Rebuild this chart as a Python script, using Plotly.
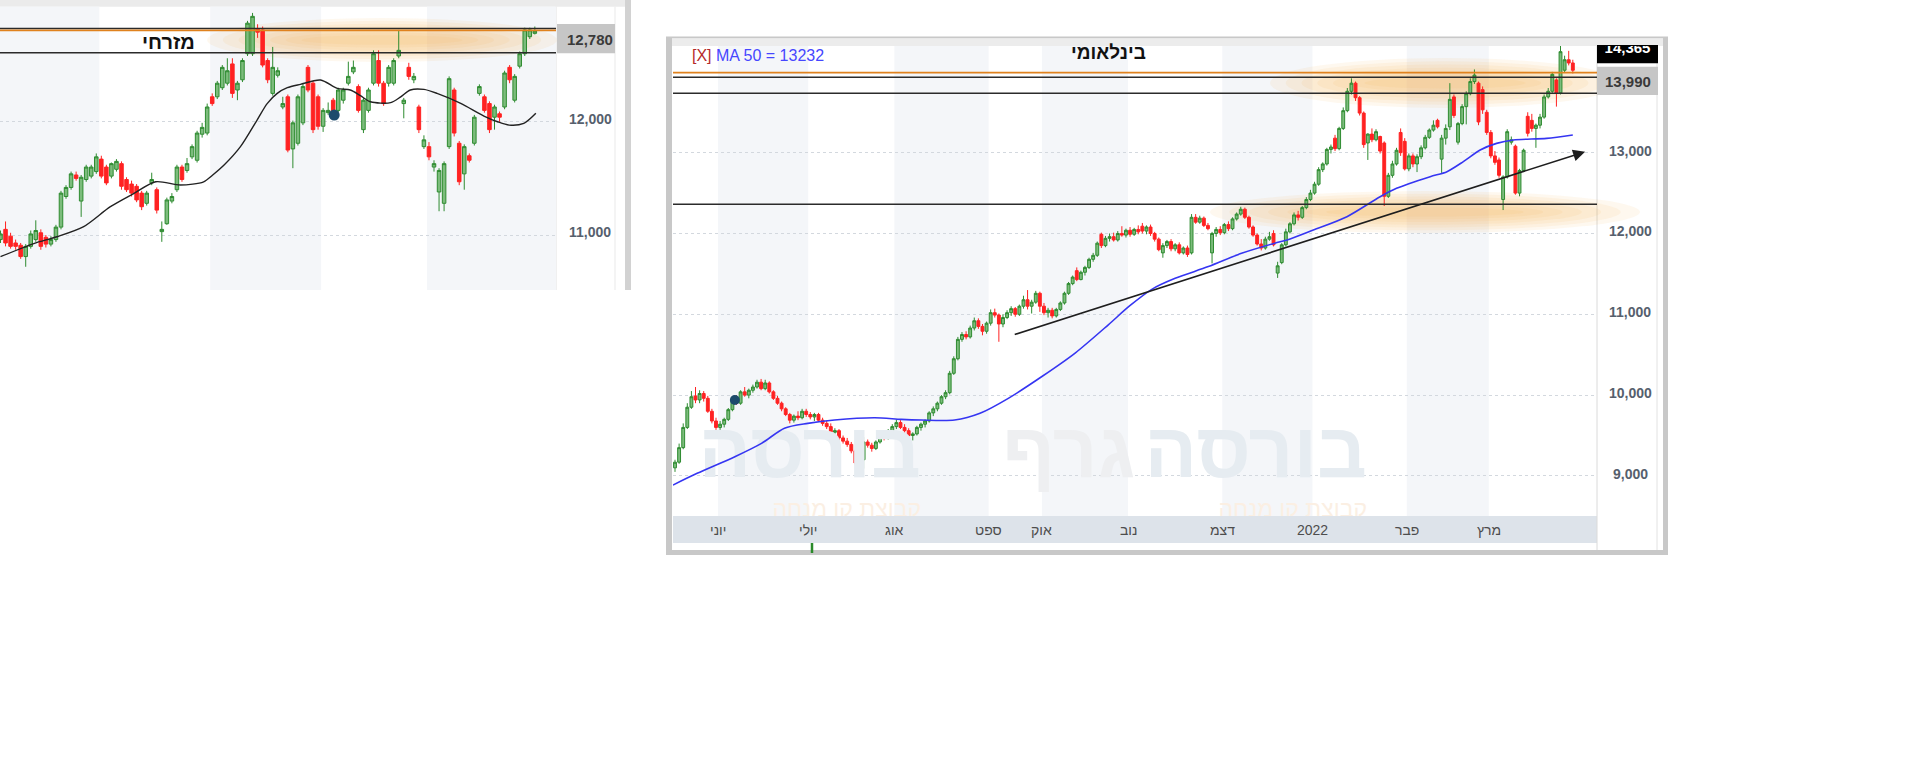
import plotly.graph_objects as go

W, H = 1914, 761

# ---------------- data: right chart (בינלאומי) ----------------
r_open = [9100, 9170, 9350, 9600, 9850, 9990, 9940, 10020, 9960, 9800,
          9680, 9600, 9640, 9700, 9820, 9930, 9900, 10040, 10000, 10060,
          10100, 10160, 10080, 10150, 10040, 9960, 9900, 9830, 9760, 9690,
          9740, 9720, 9800, 9760, 9730, 9760, 9690, 9650, 9610, 9540,
          9560, 9470, 9430, 9390, 9310, 9160, 9200, 9420, 9380, 9340,
          9420, 9500, 9470, 9560, 9610, 9660, 9600, 9560, 9500, 9520,
          9600, 9640, 9680, 9780, 9830, 9900, 9980, 10030, 10270, 10450,
          10690, 10750, 10720, 10830, 10920, 10850, 10790, 10890, 11020, 10990,
          10880, 10960, 11020, 11070, 11000, 11100, 11180, 11100, 11150, 11260,
          11100, 11020, 11050, 10980, 11060, 11140, 11260, 11380, 11540, 11430,
          11520, 11580, 11680, 11730, 11990, 11850, 11940, 11960, 11920, 12000,
          11980, 12040, 11990, 12050, 12090, 12030, 12080, 12000, 11930, 11760,
          11850, 11900, 11810, 11860, 11760, 11820, 11760, 12200, 12140, 12190,
          12100, 11760, 12000, 12050, 12010, 12110, 12060, 12180, 12240, 12300,
          12200, 12080, 11980, 11870, 11820, 11930, 12000, 11510, 11640, 11860,
          12020, 12120, 12230, 12200, 12320, 12420, 12500, 12610, 12790, 12860,
          13040, 13180, 13050, 13300, 13520, 13760, 13860, 13680, 13490, 13120,
          13230, 13160, 13200, 13120, 12460, 12720, 12860, 13250, 13140, 12800,
          12960, 12860, 12950, 13060, 13190, 13280, 13400, 12920, 13180, 13320,
          13690, 13130, 13360, 13570, 13730, 13880, 13860, 13780, 13500, 13250,
          12960, 12910, 12420, 12700, 13130, 13080, 12500, 12780, 13450, 13400,
          13300, 13340, 13440, 13690, 13760, 13900, 13740, 14020, 14150, 14110]
r_high = [9200, 9400, 9650, 9900, 10050, 10100, 10060, 10050, 9990, 9830,
          9720, 9680, 9720, 9840, 9960, 10000, 10060, 10100, 10080, 10130,
          10190, 10200, 10190, 10170, 10060, 9990, 9920, 9850, 9780, 9760,
          9800, 9830, 9830, 9790, 9780, 9780, 9720, 9680, 9650, 9590,
          9580, 9500, 9470, 9420, 9340, 9250, 9480, 9450, 9410, 9440,
          9520, 9560, 9580, 9640, 9700, 9690, 9640, 9590, 9540, 9620,
          9660, 9700, 9800, 9860, 9920, 10000, 10060, 10300, 10480, 10720,
          10780, 10790, 10860, 10960, 10950, 10880, 10910, 11060, 11070, 11010,
          11000, 11050, 11100, 11090, 11120, 11230, 11300, 11180, 11290, 11280,
          11140, 11080, 11080, 11080, 11160, 11280, 11400, 11480, 11580, 11540,
          11600, 11700, 11760, 11900, 12010, 11970, 12000, 12010, 12030, 12090,
          12060, 12080, 12070, 12100, 12130, 12100, 12110, 12020, 11950, 11880,
          11920, 11930, 11880, 11890, 11840, 11850, 12240, 12240, 12220, 12210,
          12130, 12020, 12080, 12090, 12130, 12150, 12200, 12260, 12330, 12320,
          12220, 12100, 12000, 11930, 11960, 12020, 12040, 11650, 11880, 12060,
          12140, 12260, 12280, 12340, 12450, 12540, 12640, 12820, 12880, 13060,
          13100, 13220, 13320, 13560, 13800, 13920, 13880, 13700, 13510, 13240,
          13300, 13290, 13210, 13140, 12750, 12900, 13060, 13300, 13180, 12990,
          12990, 12980, 13090, 13220, 13300, 13400, 13420, 13220, 13350, 13860,
          13720, 13380, 13600, 13760, 13920, 14030, 13880, 13820, 13530, 13280,
          13020, 12940, 12720, 13290, 13200, 13100, 12800, 13050, 13500, 13480,
          13360, 13480, 13720, 13800, 14000, 13920, 14330, 14200, 14260, 14150]
r_low = [9050, 9150, 9330, 9580, 9830, 9900, 9900, 9920, 9780, 9650,
         9570, 9570, 9600, 9680, 9800, 9880, 9880, 9980, 9960, 10030,
         10080, 10060, 10060, 10020, 9940, 9880, 9800, 9740, 9650, 9660,
         9690, 9700, 9730, 9700, 9680, 9670, 9620, 9580, 9520, 9490,
         9440, 9400, 9360, 9280, 9130, 9110, 9090, 9350, 9300, 9320,
         9400, 9440, 9450, 9530, 9580, 9580, 9530, 9470, 9440, 9500,
         9560, 9600, 9660, 9740, 9800, 9880, 9950, 10010, 10250, 10430,
         10660, 10690, 10700, 10800, 10820, 10740, 10760, 10860, 10960, 10660,
         10840, 10940, 10980, 10970, 10980, 11070, 11060, 11010, 11130, 11030,
         10990, 10960, 10950, 10960, 11040, 11120, 11240, 11360, 11410, 11420,
         11480, 11560, 11650, 11710, 11820, 11830, 11900, 11900, 11900, 11960,
         11950, 11960, 11970, 11990, 12000, 11990, 11970, 11900, 11780, 11700,
         11820, 11780, 11780, 11740, 11740, 11710, 11740, 12120, 12120, 12080,
         12040, 11630, 11960, 11980, 11990, 12030, 12040, 12160, 12220, 12180,
         12060, 11960, 11850, 11790, 11800, 11910, 11840, 11450, 11620, 11840,
         12000, 12100, 12160, 12180, 12300, 12400, 12480, 12590, 12760, 12840,
         12990, 13020, 13030, 13280, 13500, 13720, 13640, 13460, 13060, 12910,
         13130, 13140, 12990, 12340, 12440, 12690, 12840, 12960, 12780, 12770,
         12820, 12760, 12920, 13040, 13170, 13260, 13300, 12750, 13100, 13280,
         13430, 13100, 13340, 13350, 13710, 13850, 13340, 13480, 13220, 12930,
         12850, 12690, 12290, 12680, 13100, 12480, 12460, 12760, 13200, 13260,
         13060, 13300, 13420, 13670, 13740, 13570, 13720, 13990, 14080, 13980]
r_close = [9170, 9350, 9600, 9850, 9980, 9940, 10020, 9960, 9800, 9680,
           9600, 9640, 9700, 9820, 9930, 9900, 10040, 10000, 10060, 10100,
           10160, 10080, 10150, 10040, 9960, 9900, 9830, 9760, 9690, 9740,
           9720, 9800, 9760, 9730, 9760, 9690, 9650, 9610, 9540, 9560,
           9470, 9430, 9390, 9310, 9160, 9200, 9420, 9380, 9340, 9420,
           9500, 9470, 9560, 9610, 9660, 9600, 9560, 9500, 9520, 9600,
           9640, 9680, 9780, 9830, 9900, 9980, 10030, 10270, 10450, 10690,
           10750, 10720, 10830, 10920, 10850, 10790, 10890, 11020, 10990, 10880,
           10960, 11020, 11070, 11000, 11100, 11180, 11100, 11150, 11260, 11100,
           11020, 11050, 10980, 11060, 11140, 11260, 11380, 11460, 11430, 11520,
           11580, 11680, 11730, 11880, 11850, 11940, 11960, 11920, 12000, 11980,
           12040, 11990, 12050, 12020, 12030, 12080, 12000, 11930, 11800, 11850,
           11900, 11810, 11860, 11760, 11820, 11740, 12200, 12140, 12190, 12100,
           12060, 12000, 12050, 12010, 12110, 12060, 12180, 12240, 12300, 12200,
           12080, 11980, 11870, 11820, 11930, 11960, 11860, 11600, 11860, 12020,
           12120, 12230, 12200, 12320, 12420, 12500, 12610, 12790, 12860, 13040,
           13070, 13050, 13300, 13520, 13760, 13860, 13680, 13490, 13100, 13230,
           13160, 13260, 13020, 12460, 12720, 12860, 13030, 13000, 12800, 12960,
           12860, 12950, 13060, 13190, 13280, 13340, 13320, 13180, 13300, 13660,
           13460, 13360, 13570, 13730, 13880, 13960, 13380, 13530, 13250, 12960,
           12880, 12720, 12700, 13260, 13160, 12500, 12780, 13030, 13240, 13300,
           13340, 13440, 13690, 13760, 13970, 13740, 14250, 14150, 14110, 14020]
r_ma_idx = [-0.5, 5.4, 14.6, 21.1, 26.7, 32.4, 38.9, 48.7, 55.2, 60.1, 68.2, 74.4,
            81.3, 89.5, 97.6, 105.7, 110.8, 116.3, 122, 130.1, 138.2, 146.3, 149.3,
            155.7, 163.9, 172, 176, 184.2, 188.3, 192.3, 196.4, 200.4, 204.5, 212.6, 219]
r_ma_val = [8887, 9032, 9238, 9403, 9590, 9650, 9692, 9720, 9700, 9692, 9692, 9775,
            9960, 10230, 10520, 10870, 11100, 11309, 11445, 11590, 11755, 11880, 11920,
            12043, 12208, 12455, 12559, 12703, 12765, 12889, 13033, 13115, 13157, 13177, 13219]
r_levels = [13933, 13735, 12361]          # black support / resistance lines
r_orange_level = 13990
r_trend = ([82.5, 222], [10744, 13012])   # trend line start / arrow tip
r_dot = ([14.6], [9939])
r_ticks = [9000, 10000, 11000, 12000, 13000]
r_month_start = [11, 33, 54, 77, 90, 111, 134, 156, 179, 199]
r_month_labels = ['יוני', 'יולי', 'אוג', 'ספט', 'אוק', 'נוב', 'דצמ', '2022', 'פבר', 'מרץ']

# ---------------- data: left chart (מזרחי) ----------------
l_open = [10960, 11050, 10990, 10930, 10910, 10810, 10900, 10960, 11020, 10980,
          10920, 10960, 11070, 11340, 11420, 11530, 11300, 11490, 11520, 11560,
          11670, 11600, 11520, 11580, 11630, 11490, 11450, 11430, 11370, 11280,
          11460, 11400, 11030, 11100, 11300, 11400, 11600, 11570, 11690, 11660,
          11890, 11900, 12220, 12220, 12300, 12340, 12510, 12280, 12370, 12600,
          12600, 12820, 12810, 12540, 12250, 12410, 12130, 12220, 11760, 11810,
          11990, 12480, 12340, 12220, 11960, 12080, 12190, 12100, 12190, 12340,
          12440, 12310, 11930, 12100, 12340, 12540, 12340, 12340, 12340, 12580,
          12160, 12480, 12370, 12130, 11780, 11780, 11600, 11380, 11280, 11780,
          12280, 11810, 11540, 11700, 11810, 12250, 12220, 12160, 12040, 12070,
          12130, 12480, 12190, 12490, 12600, 12750, 12780]
l_high = [11040, 11120, 11020, 10960, 10930, 10920, 11040, 11130, 11050, 11000,
          10990, 11090, 11390, 11440, 11560, 11560, 11530, 11620, 11620, 11720,
          11700, 11620, 11640, 11670, 11650, 11510, 11480, 11450, 11390, 11390,
          11550, 11420, 11120, 11330, 11370, 11620, 11620, 11680, 11800, 11920,
          11990, 12160, 12250, 12360, 12500, 12560, 12560, 12360, 12560, 12890,
          12960, 12860, 12840, 12560, 12660, 12480, 12220, 12240, 12010, 12240,
          12340, 12500, 12360, 12240, 12120, 12170, 12210, 12300, 12300, 12530,
          12540, 12330, 12210, 12300, 12630, 12630, 12360, 12500, 12560, 12810,
          12210, 12520, 12430, 12150, 11880, 11820, 11660, 11590, 11650, 12400,
          12300, 11830, 11800, 11720, 12060, 12330, 12240, 12180, 12150, 12090,
          12450, 12500, 12420, 12620, 12830, 12830, 12840]
l_low = [10930, 10900, 10880, 10870, 10790, 10720, 10880, 10940, 10870, 10890,
         10900, 10940, 11050, 11320, 11400, 11480, 11160, 11470, 11500, 11540,
         11500, 11440, 11500, 11560, 11400, 11380, 11340, 11290, 11220, 11260,
         11440, 11190, 10940, 11090, 11280, 11380, 11470, 11550, 11670, 11640,
         11860, 11880, 12140, 12200, 12280, 12320, 12210, 12190, 12350, 12580,
         12580, 12740, 12480, 12340, 12230, 12390, 12110, 11730, 11590, 11790,
         11970, 12260, 11900, 11930, 11910, 12060, 12040, 12080, 12160, 12320,
         12420, 12080, 11900, 12080, 12320, 12310, 12140, 12310, 12320, 12560,
         12030, 12370, 12340, 11900, 11760, 11660, 11560, 11210, 11210, 11760,
         11870, 11440, 11400, 11640, 11790, 12230, 12080, 11900, 11930, 12000,
         12110, 12340, 12170, 12470, 12580, 12730, 12770]
l_close = [11010, 10930, 10900, 10900, 10810, 10900, 11010, 11040, 10900, 10920,
           10960, 11070, 11370, 11420, 11540, 11500, 11510, 11600, 11600, 11690,
           11520, 11460, 11630, 11650, 11430, 11400, 11370, 11310, 11250, 11370,
           11490, 11220, 11050, 11310, 11340, 11600, 11490, 11630, 11780, 11900,
           11950, 12130, 12160, 12340, 12480, 12450, 12250, 12340, 12540, 12870,
           12930, 12790, 12500, 12370, 12480, 12450, 12160, 11750, 11990, 12220,
           12310, 12280, 11930, 11960, 12100, 12100, 12070, 12280, 12280, 12400,
           12480, 12100, 12190, 12280, 12600, 12340, 12160, 12480, 12540, 12630,
           12190, 12400, 12400, 11930, 11840, 11690, 11630, 11570, 11630, 12380,
           11900, 11470, 11780, 11660, 12040, 12310, 12100, 11930, 12130, 12040,
           12430, 12370, 12400, 12600, 12810, 12810, 12800]
l_ma_idx = [0, 6.6, 11.2, 16.5, 21.8, 26.5, 30.8, 35.7, 40.3, 42.1, 44.4, 47.6, 50.9,
            52.9, 54.9, 56.9, 59.5, 63.5, 66.8, 69.4, 71.4, 73.4, 77.4, 79.4, 81.3,
            84.0, 86.6, 91.3, 95.9, 98.6, 100.9, 103.8, 106.2]
l_ma_val = [10809, 10925, 10985, 11074, 11250, 11368, 11470, 11441, 11470, 11530, 11620,
            11780, 12015, 12160, 12250, 12300, 12330, 12368, 12294, 12280, 12230, 12176,
            12168, 12220, 12280, 12285, 12250, 12162, 12050, 12000, 11970, 11985, 12074]
l_levels = [12822, 12609]
l_orange_level = 12806
l_dot = ([66.2], [12059])
l_ticks = [11000, 12000]
l_month_start = [20, 42, 64, 85]

# ---------------- geometry helpers (pixel -> paper) ----------------
def px(x):
    return x / W


def py(y):
    return 1 - y / H


# plot boxes in pixels
L_X0, L_X1, L_Y0, L_Y1 = 0, 556, 6.7, 290
R_X0, R_X1, R_Y0, R_Y1 = 673, 1597, 46, 516
L_XR = [-0.1, 110.2]
L_YR = [10515, 13015]
R_XR = [-0.49, 224.9]
R_YR = [8504, 14320]


def r_xi(xp):
    return R_XR[0] + (xp - R_X0) / (R_X1 - R_X0) * (R_XR[1] - R_XR[0])


def r_yv(yp):
    return R_YR[1] - (yp - R_Y0) / (R_Y1 - R_Y0) * (R_YR[1] - R_YR[0])


GREEN_LINE = '#2e8b30'
GREEN_FILL = '#7cbc7c'
RED = '#ff2222'
BAND = '#f4f6f9'
HEB = 'Liberation Sans, Arial, DejaVu Sans, sans-serif'

fig = go.Figure()

# watermark (drawn first, clipped to the right plot)
wm_y = r_yv(457)
sub_y = r_yv(511)
for txt, xr, col, size, yy in [
    ('בורסה', 921, '#e6ecf1', 78, wm_y),
    ('בורסה', 1367, '#e6ecf1', 78, wm_y),
    ('גרף', 1135, '#eeeff1', 78, wm_y),
    ('קבוצת קו מנחה', 921, '#fbefe3', 23, sub_y),
    ('קבוצת קו מנחה', 1367, '#fbefe3', 23, sub_y),
]:
    fig.add_trace(go.Scatter(
        x=[r_xi(xr)], y=[yy], mode='text', text=[txt], textposition='middle left',
        textfont=dict(family=HEB, size=size, color=col, weight='bold' if size > 40 else 'normal'),
        xaxis='x2', yaxis='y2', hoverinfo='skip', showlegend=False))

# left candles
fig.add_trace(go.Candlestick(
    x=list(range(len(l_close))), open=l_open, high=l_high, low=l_low, close=l_close,
    increasing=dict(line=dict(color=GREEN_LINE, width=1), fillcolor=GREEN_FILL),
    decreasing=dict(line=dict(color=RED, width=1), fillcolor=RED),
    whiskerwidth=0, xaxis='x', yaxis='y', showlegend=False, hoverinfo='skip'))
fig.add_trace(go.Scatter(x=l_ma_idx, y=l_ma_val, mode='lines',
                         line=dict(color='#222222', width=1.4, shape='spline', smoothing=0.8),
                         xaxis='x', yaxis='y', showlegend=False, hoverinfo='skip'))
fig.add_trace(go.Scatter(x=l_dot[0], y=l_dot[1], mode='markers',
                         marker=dict(color='#1d4b6c', size=11),
                         xaxis='x', yaxis='y', showlegend=False, hoverinfo='skip'))

# right candles
fig.add_trace(go.Candlestick(
    x=list(range(len(r_close))), open=r_open, high=r_high, low=r_low, close=r_close,
    increasing=dict(line=dict(color=GREEN_LINE, width=1), fillcolor=GREEN_FILL),
    decreasing=dict(line=dict(color=RED, width=1), fillcolor=RED),
    whiskerwidth=0, xaxis='x2', yaxis='y2', showlegend=False, hoverinfo='skip'))
fig.add_trace(go.Scatter(x=r_ma_idx, y=r_ma_val, mode='lines',
                         line=dict(color='#3535f2', width=1.6, shape='spline', smoothing=0.8),
                         xaxis='x2', yaxis='y2', showlegend=False, hoverinfo='skip'))
fig.add_trace(go.Scatter(x=r_dot[0], y=r_dot[1], mode='markers',
                         marker=dict(color='#1d4b6c', size=10),
                         xaxis='x2', yaxis='y2', showlegend=False, hoverinfo='skip'))

# clipped last-price text inside the black badge (top of the digits is cut)
fig.add_trace(go.Scatter(x=[0.5], y=[0.82], mode='text', text=['14,365'],
                         textfont=dict(family=HEB, size=15, color='white', weight='bold'),
                         xaxis='x3', yaxis='y3', showlegend=False, hoverinfo='skip'))

shapes = []


def rect(x0, y0, x1, y1, fill, layer='below'):
    return dict(type='rect', xref='paper', yref='paper', x0=px(x0), x1=px(x1),
                y0=py(y1), y1=py(y0), fillcolor=fill, line=dict(width=0), layer=layer)


def vline(x, y0, y1, color, width=1, layer='below'):
    return dict(type='line', xref='paper', yref='paper', x0=px(x), x1=px(x),
                y0=py(y0), y1=py(y1), line=dict(color=color, width=width), layer=layer)


def glow(cx, cy, rx, ry, n=7):
    out = []
    for k in range(n):
        fx = 1 - 0.09 * k
        fy = 1 - 0.13 * k
        out.append(dict(type='circle', xref='paper', yref='paper',
                        x0=px(cx - rx * fx), x1=px(cx + rx * fx),
                        y0=py(cy + ry * fy), y1=py(cy - ry * fy),
                        fillcolor='#f6b247', opacity=0.085, line=dict(width=0), layer='below'))
    return out


# ---- left chart frame ----
shapes.append(rect(0, 0, 625, L_Y0, '#ebebeb'))
shapes.append(rect(625, 0, 631, L_Y1, '#d2d2d2'))
shapes.append(vline(L_X1, L_Y0, L_Y1, '#e2e2e2'))
shapes.append(vline(615, L_Y0, L_Y1, '#e9e9e9'))
l_edges = [m - 0.4 for m in l_month_start]
for a, b in [(L_XR[0], l_edges[0]), (l_edges[1], l_edges[2]), (l_edges[3], L_XR[1])]:
    shapes.append(dict(type='rect', xref='x', yref='paper', x0=a, x1=b,
                       y0=py(L_Y1), y1=py(L_Y0), fillcolor=BAND, line=dict(width=0), layer='below'))
shapes += glow(382, 40, 175, 22)

# ---- right chart frame ----
shapes.append(rect(666, 36.5, 1668, 555, '#c8c8c8'))
shapes.append(rect(672, 38.5, 1663, 550, '#ffffff'))
shapes.append(rect(672, 38.5, 1663, R_Y0, '#ececec'))
r_edges = [m - 0.5 for m in r_month_start]
for k in range(0, len(r_edges), 2):
    shapes.append(dict(type='rect', xref='x2', yref='paper', x0=r_edges[k], x1=r_edges[k + 1],
                       y0=py(R_Y1), y1=py(R_Y0), fillcolor=BAND, line=dict(width=0), layer='below'))
shapes.append(rect(R_X0, R_Y1, R_X1, 543, '#dde3ea'))
shapes.append(vline(R_X1, R_Y0, 550, '#dadada'))
shapes.append(vline(1657, R_Y0, 550, '#e2e2e2'))
shapes += glow(1445, 83, 175, 25)
shapes += glow(1425, 212, 215, 21)

# ---- badges (below the traces so the clipped badge text shows) ----
shapes.append(rect(557, 24, 615, 53.3, '#c6c6c6'))
shapes.append(rect(1597, 66.7, 1658, 95, '#c6c6c6'))
shapes.append(rect(1597, 45, 1658, 63.3, '#000000'))

# ---- level lines ----
for v in l_levels:
    shapes.append(dict(type='line', xref='paper', yref='y', x0=px(L_X0), x1=px(L_X1), y0=v, y1=v,
                       line=dict(color='#2b2b2b', width=1.5), layer='above'))
shapes.append(dict(type='line', xref='paper', yref='y', x0=px(L_X0), x1=px(L_X1),
                   y0=l_orange_level, y1=l_orange_level,
                   line=dict(color='#e0821e', width=1.6), layer='above'))
for v in r_levels:
    shapes.append(dict(type='line', xref='paper', yref='y2', x0=px(R_X0), x1=px(R_X1), y0=v, y1=v,
                       line=dict(color='#2b2b2b', width=1.5), layer='above'))
shapes.append(dict(type='line', xref='paper', yref='y2', x0=px(R_X0), x1=px(R_X1),
                   y0=r_orange_level, y1=r_orange_level,
                   line=dict(color='#e0821e', width=1.6), layer='above'))

# green marker under the axis band
shapes.append(dict(type='line', xref='paper', yref='paper', x0=px(812), x1=px(812),
                   y0=py(543), y1=py(553), line=dict(color='#2a8a2a', width=2.5), layer='above'))

annotations = []


def ann(text, x, y, size, color, xref='paper', yref='paper', xanchor='center', yshift=0, bold=False):
    return dict(text=('<b>%s</b>' % text) if bold else text, xref=xref, yref=yref, x=x, y=y,
                xanchor=xanchor, yanchor='middle', yshift=yshift, showarrow=False,
                font=dict(family=HEB, size=size, color=color))


annotations.append(ann('מזרחי', px(168), py(42), 20, '#111111', bold=True))
annotations.append(ann('בינלאומי', px(1108), py(53), 19, '#111111', bold=True))
annotations.append(ann('<span style="color:#b52a2a">[X]</span> MA 50 = 13232',
                       px(690), py(56), 16, '#4646ff', xanchor='left'))
for v in r_ticks:
    annotations.append(ann(format(v, ','), px(1630), v, 14, '#56606d', yref='y2', yshift=2, bold=True))
for v in l_ticks:
    annotations.append(ann(format(v, ','), px(590), v, 14, '#56606d', yref='y', yshift=3, bold=True))
for e, lab in zip(r_edges, r_month_labels):
    annotations.append(ann(lab, e, py(530), 14, '#4d4d4d', xref='x2'))
annotations.append(ann('13,990', px(1628), py(81), 15, '#3a3a3a', bold=True))
annotations.append(ann('12,780', px(590), py(39), 15, '#3a3a3a', bold=True))
annotations.append(dict(text='', xref='x2', yref='y2', x=r_trend[0][1], y=r_trend[1][1],
                        axref='x2', ayref='y2', ax=r_trend[0][0], ay=r_trend[1][0],
                        showarrow=True, arrowhead=2, arrowsize=1.5, arrowwidth=1.6,
                        arrowcolor='#1e1e1e', standoff=0, startstandoff=0))

axis_common = dict(showticklabels=False, zeroline=False, showline=False, ticks='', fixedrange=True)
fig.update_layout(
    width=W, height=H, margin=dict(l=0, r=0, t=0, b=0),
    paper_bgcolor='white', plot_bgcolor='rgba(0,0,0,0)',
    showlegend=False, boxgap=0.3, boxgroupgap=0,
    shapes=shapes, annotations=annotations,
    xaxis=dict(domain=[px(L_X0), px(L_X1)], range=L_XR, showgrid=False,
               rangeslider=dict(visible=False), anchor='y', **axis_common),
    yaxis=dict(domain=[py(L_Y1), py(L_Y0)], range=L_YR, tickvals=l_ticks, showgrid=True,
               gridcolor='#d3d8de', griddash='dot', gridwidth=1, anchor='x', **axis_common),
    xaxis2=dict(domain=[px(R_X0), px(R_X1)], range=R_XR, showgrid=False,
                rangeslider=dict(visible=False), anchor='y2', **axis_common),
    yaxis2=dict(domain=[py(R_Y1), py(R_Y0)], range=R_YR, tickvals=r_ticks, showgrid=True,
                gridcolor='#d3d8de', griddash='dot', gridwidth=1, anchor='x2', **axis_common),
    xaxis3=dict(domain=[px(1597), px(1658)], range=[0, 1], visible=False, anchor='y3', fixedrange=True),
    yaxis3=dict(domain=[py(63.3), py(46)], range=[0, 1], visible=False, anchor='x3', fixedrange=True),
)

fig.write_html("out.html", config={'displayModeBar': False},
               post_script="document.body.style.margin='0';document.body.style.overflow='hidden';")
